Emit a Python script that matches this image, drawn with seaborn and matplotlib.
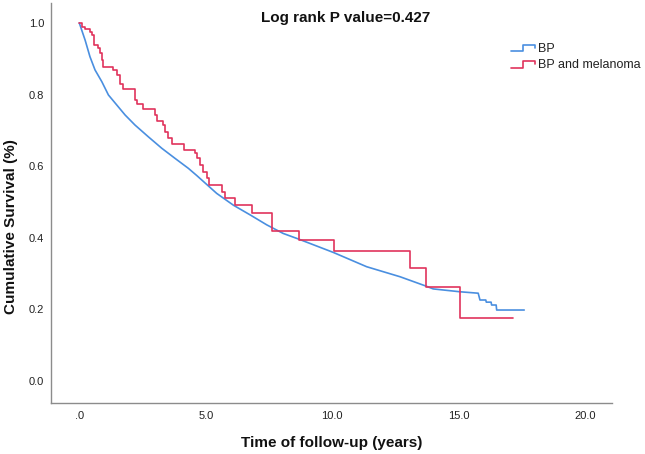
import matplotlib
matplotlib.use("Agg")
import matplotlib.pyplot as plt
import seaborn as sns
import pandas as pd
from matplotlib.legend_handler import HandlerBase
from matplotlib.lines import Line2D

# ---- data ----
bp_time = [0, 0.23, 0.42, 0.62, 0.89, 1.15, 1.48, 1.81, 2.20, 2.73, 3.26, 3.78,
           4.31, 4.64, 5.43, 6.09, 6.75, 7.41, 8.06, 8.68, 10.04, 11.36, 12.68,
           13.70, 13.99, 15.05, 15.77, 15.84, 16.07, 16.09, 16.28, 16.30, 16.48,
           16.50, 17.59]
bp_surv = [1.0, 0.952, 0.906, 0.869, 0.836, 0.799, 0.771, 0.743, 0.715, 0.682,
           0.650, 0.622, 0.594, 0.574, 0.524, 0.491, 0.464, 0.436, 0.412, 0.396,
           0.359, 0.319, 0.291, 0.265, 0.257, 0.249, 0.245, 0.226, 0.226, 0.220,
           0.220, 0.212, 0.212, 0.198, 0.198]

mel_time = [0, 0.12, 0.23, 0.42, 0.49, 0.59, 0.73, 0.82, 0.89, 0.95, 1.34, 1.50,
            1.61, 1.74, 2.20, 2.27, 2.53, 2.99, 3.06, 3.32, 3.39, 3.49, 3.65,
            4.15, 4.57, 4.64, 4.77, 4.88, 5.06, 5.14, 5.63, 5.76, 6.15, 6.84,
            7.63, 8.68, 10.08, 13.07, 13.70, 15.07, 17.15]
mel_surv = [1.0, 0.990, 0.983, 0.975, 0.966, 0.939, 0.930, 0.915, 0.897, 0.878,
            0.869, 0.855, 0.831, 0.815, 0.785, 0.773, 0.759, 0.743, 0.726, 0.715,
            0.696, 0.678, 0.661, 0.645, 0.636, 0.622, 0.604, 0.585, 0.566, 0.547,
            0.529, 0.510, 0.491, 0.468, 0.420, 0.394, 0.363, 0.316, 0.263, 0.175,
            0.175]

series_labels = ["BP", "BP and melanoma"]
x_ticks = [0, 5, 10, 15, 20]
x_tick_labels = [".0", "5.0", "10.0", "15.0", "20.0"]
y_ticks = [0.0, 0.2, 0.4, 0.6, 0.8, 1.0]
y_tick_labels = ["0.0", "0.2", "0.4", "0.6", "0.8", "1.0"]
title_text = "Log rank P value=0.427"
x_label = "Time of follow-up (years)"
y_label = "Cumulative Survival (%)"

BLUE = "#4a8fe0"
RED = "#e0335c"

sns.set_style("white")
plt.rcParams['font.family'] = ['Liberation Sans', 'DejaVu Sans']

fig = plt.figure(figsize=(6.45, 4.54), dpi=100)
ax = fig.add_axes([51 / 645, 1 - 402.7 / 454, (612 - 51) / 645, (402.7 - 3) / 454])

df_bp = pd.DataFrame({"time": bp_time, "surv": bp_surv})
df_mel = pd.DataFrame({"time": mel_time, "surv": mel_surv})

sns.lineplot(data=df_bp, x="time", y="surv", ax=ax, color=BLUE, lw=1.2,
             estimator=None, sort=False, legend=False)
sns.lineplot(data=df_mel, x="time", y="surv", ax=ax, color=RED, lw=1.2,
             estimator=None, sort=False, legend=False, drawstyle="steps-post")

ax.set_xlim(-1.12, 21.06)
ax.set_ylim(-0.061, 1.056)
ax.set_xticks(x_ticks)
ax.set_xticklabels(x_tick_labels)
ax.set_yticks(y_ticks)
ax.set_yticklabels(y_tick_labels)
ax.tick_params(axis="both", length=0, labelsize=8, labelcolor="#222222")
ax.tick_params(axis="x", pad=6)
ax.tick_params(axis="y", pad=5)

for s in ["top", "right"]:
    ax.spines[s].set_visible(False)
for s in ["left", "bottom"]:
    ax.spines[s].set_color("#8c8c8c")
    ax.spines[s].set_linewidth(1.0)

ax.set_xlabel(x_label, fontsize=11, fontweight="bold", color="#111111")
ax.set_ylabel(y_label, fontsize=11, fontweight="bold", color="#111111")
ax.xaxis.set_label_coords(0.5, (402.7 - 436) / 399.7)
ax.yaxis.set_label_coords((18 - 51) / 561, (402.7 - 227) / 399.7)

ax.text((346 - 51) / 561, (402.7 - 18) / 399.7, title_text, transform=ax.transAxes,
        ha="center", va="center", fontsize=11, fontweight="bold", color="#111111")


class StepHandler(HandlerBase):
    def create_artists(self, legend, orig_handle, xdescent, ydescent, width,
                       height, fontsize, trans):
        x0 = -xdescent
        y0 = -ydescent
        xs = [x0, x0 + 0.5 * width, x0 + 0.5 * width, x0 + width, x0 + width]
        ys = [y0 + 0.1 * height, y0 + 0.1 * height, y0 + 0.85 * height,
              y0 + 0.85 * height, y0 + 0.5 * height]
        ln = Line2D(xs, ys, color=orig_handle.get_color(),
                    lw=orig_handle.get_linewidth(), transform=trans)
        return [ln]


h1 = Line2D([], [], color=BLUE, lw=1.2)
h2 = Line2D([], [], color=RED, lw=1.2)
leg = fig.legend([h1, h2], series_labels, loc="upper left",
                 bbox_to_anchor=(511 / 645, 1 - 43 / 454), frameon=False,
                 fontsize=9, handlelength=1.9, handletextpad=0.25,
                 labelspacing=0.35, borderpad=0, borderaxespad=0,
                 handler_map={Line2D: StepHandler()})
for t in leg.get_texts():
    t.set_color("#222222")

fig.savefig("out.png", dpi=100)
